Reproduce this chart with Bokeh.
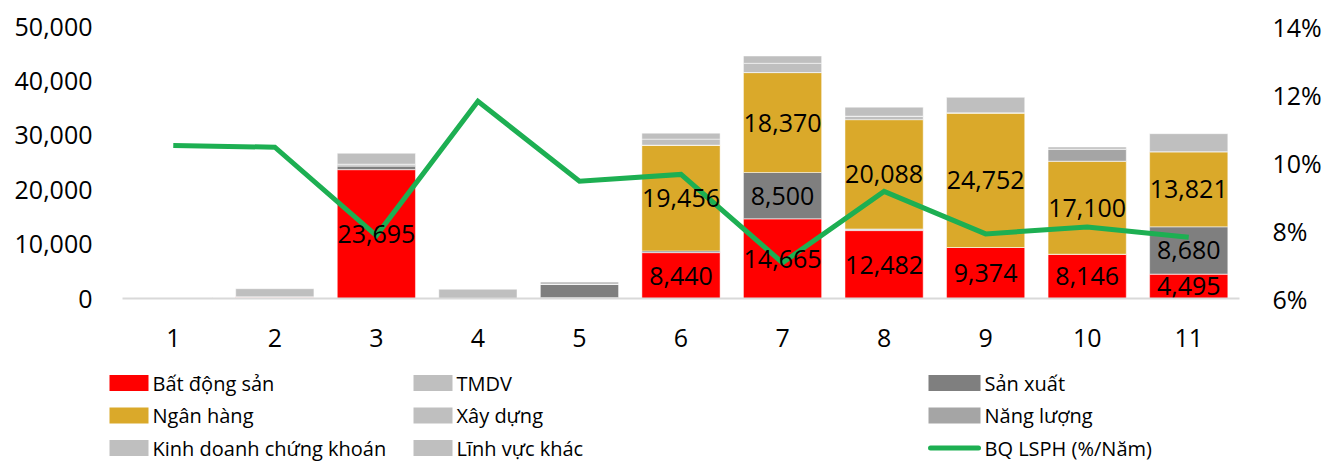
import numpy as np
from bokeh.plotting import figure
from bokeh.models import (ColumnDataSource, Range1d, LinearAxis, FixedTicker,
                          NumeralTickFormatter, PrintfTickFormatter)
from bokeh.embed import file_html
from bokeh.resources import INLINE
from bokeh.core.properties import value

# ---------------- data ----------------
categories = ["1", "2", "3", "4", "5", "6", "7", "8", "9", "10", "11"]
bat_dong_san = [0, 300, 23695, 0, 0, 8440, 14665, 12482, 9374, 8146, 4495]
tmdv = [250, 0, 0, 0, 150, 0, 0, 300, 0, 0, 0]
san_xuat = [0, 0, 700, 0, 2450, 300, 8500, 0, 0, 0, 8680]
ngan_hang = [0, 0, 0, 0, 0, 19456, 18370, 20088, 24752, 17100, 13821]
xay_dung = [0, 0, 0, 0, 0, 0, 0, 650, 0, 0, 0]
nang_luong = [0, 0, 300, 0, 0, 0, 0, 0, 0, 2200, 0]
kinh_doanh_ck = [0, 0, 0, 0, 0, 1100, 1700, 0, 0, 0, 0]
linh_vuc_khac = [0, 1500, 2000, 1700, 450, 1100, 1340, 1650, 2850, 400, 3300]
bq_lsph = [10.5, 10.45, 7.85, 11.8, 9.45, 9.65, 7.05, 9.15, 7.9, 8.1, 7.8]

series_keys = ["bds", "tmdv", "sx", "nh", "xd", "nl", "kdck", "lvk"]
series_values = [bat_dong_san, tmdv, san_xuat, ngan_hang, xay_dung,
                 nang_luong, kinh_doanh_ck, linh_vuc_khac]
series_names = ["Bất động sản", "TMDV", "Sản xuất", "Ngân hàng", "Xây dựng",
                "Năng lượng", "Kinh doanh chứng khoán", "Lĩnh vực khác"]
series_colors = ["#FF0000", "#BFBFBF", "#7F7F7F", "#DAA92A", "#BFBFBF",
                 "#A5A5A5", "#BFBFBF", "#BFBFBF"]
line_name = "BQ LSPH (%/Năm)"
line_color = "#1DAF52"

FONT = "Open Sans"
W = 1324

x = list(range(1, len(categories) + 1))
src = ColumnDataSource(dict(x=x, **{k: v for k, v in zip(series_keys, series_values)}))

# ---------------- main chart ----------------
p = figure(width=W, height=365, x_range=Range1d(0.5, 11.5),
           y_range=Range1d(0, 50000), output_backend="svg",
           toolbar_location=None, min_border_left=122, min_border_right=82,
           min_border_top=26, min_border_bottom=67)
p.extra_y_ranges = {"pct": Range1d(6, 14)}
p.outline_line_color = None
p.xgrid.visible = False
p.ygrid.visible = False
p.background_fill_color = "white"
p.border_fill_color = "white"

p.vbar_stack(series_keys, x="x", width=0.77, source=src, color=series_colors,
             line_color="white", line_width=0.8, line_alpha=0.6)

p.line(x, bq_lsph, y_range_name="pct", line_color=line_color, line_width=5,
       line_join="miter")

# data labels
vals = np.array(series_values, dtype=float)
bottoms = np.vstack([np.zeros(vals.shape[1]), np.cumsum(vals, axis=0)[:-1]])
lx, ly, lt = [], [], []
for si in (0, 2, 3):
    for j in range(vals.shape[1]):
        v = vals[si, j]
        if v >= 4000:
            lx.append(x[j])
            ly.append(bottoms[si, j] + v / 2)
            lt.append(f"{int(v):,}")
p.text(lx, ly, text=lt, text_font=value(FONT), text_font_size="25px",
       text_align="center", text_baseline="middle", text_color="#000000")

# axes
xa = p.xaxis[0]
xa.ticker = FixedTicker(ticks=x)
xa.major_label_overrides = {i: c for i, c in zip(x, categories)}
xa.axis_line_color = "#D9D9D9"
xa.axis_line_width = 2
xa.major_tick_line_color = None
xa.minor_tick_line_color = None
xa.major_label_standoff = 24

ya = p.yaxis[0]
ya.ticker = FixedTicker(ticks=[0, 10000, 20000, 30000, 40000, 50000])
ya.formatter = NumeralTickFormatter(format="0,0")
ya.axis_line_color = None
ya.major_tick_line_color = None
ya.minor_tick_line_color = None
ya.major_label_standoff = 24

ra = LinearAxis(y_range_name="pct", ticker=FixedTicker(ticks=[6, 8, 10, 12, 14]),
                formatter=PrintfTickFormatter(format="%d%%"))
ra.axis_line_color = None
ra.major_tick_line_color = None
ra.minor_tick_line_color = None
ra.major_label_standoff = 27
p.add_layout(ra, "right")

for ax in (xa, ya, ra):
    ax.major_label_text_font = FONT
    ax.major_label_text_font_size = "25px"
    ax.major_label_text_color = "#000000"

# ---------------- legend (separate root, no frame alignment) ----------------
LH = 96
lg = figure(width=W, height=LH, x_range=Range1d(0, W), y_range=Range1d(LH, 0),
            output_backend="svg", toolbar_location=None, min_border=0,
            min_border_left=0, min_border_right=0, min_border_top=0,
            min_border_bottom=0, x_axis_location=None, y_axis_location=None)
lg.xgrid.visible = False
lg.ygrid.visible = False
lg.outline_line_color = None
lg.background_fill_color = "white"
lg.border_fill_color = "white"

col_sw_left = [109, 413, 928]
col_sw_w = [39, 39, 52]
row_y = [17.5, 50, 82.5]
names = series_names + [line_name]
colors = series_colors + [line_color]
rx, ry, rw, rc, tx, ty, tt = [], [], [], [], [], [], []
for k in range(len(names)):
    r, c = divmod(k, 3)
    left = col_sw_left[c]
    w = col_sw_w[c]
    if k < len(series_names):
        rx.append(left + w / 2)
        ry.append(row_y[r])
        rw.append(w)
        rc.append(colors[k])
    else:
        lg.line([left + 2, left + w - 2], [row_y[r], row_y[r]], line_color=colors[k],
                line_width=5, line_cap="round")
    tx.append(left + w + 4)
    ty.append(row_y[r])
    tt.append(names[k])
lg.rect(rx, ry, width=rw, height=16, fill_color=rc, line_color=None)
lg.text(tx, ty, text=tt, text_font=value(FONT), text_font_size="20px",
        text_align="left", text_baseline="middle", text_color="#000000")

open("out.html", "w").write(file_html([p, lg], INLINE))
